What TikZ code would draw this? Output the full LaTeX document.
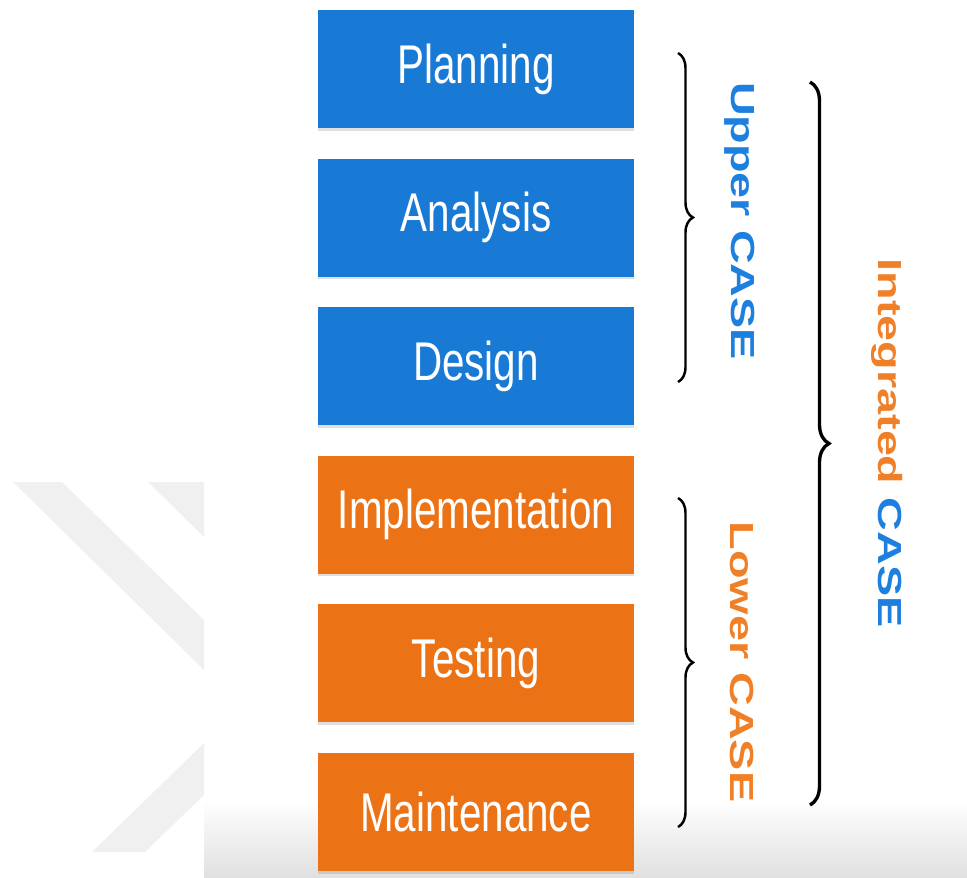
\documentclass[tikz,border=0pt]{standalone}
\usepackage{fontspec}
\setmainfont{Liberation Sans}
\usepackage{xcolor}
\usetikzlibrary{positioning, decorations.pathreplacing, shadows}

\definecolor{caseblue}{RGB}{24,122,212}
\definecolor{caseorange}{RGB}{236,114,22}
\definecolor{labelblue}{RGB}{30,128,222}
\definecolor{labelorange}{RGB}{240,128,40}

\newcommand{\tallbox}[1]{\scalebox{1}[1.35]{#1}}
\newcommand{\longbox}[1]{\scalebox{1.4}[1]{#1}}

\begin{document}
\begin{tikzpicture}[x=0.02cm, y=-0.02cm,
    phase/.style={fill=#1, text=white, minimum width=6.32cm, minimum height=2.36cm, inner sep=0pt,
        font=\fontsize{23}{26}\selectfont, drop shadow={shadow xshift=0pt, shadow yshift=-1.5pt, opacity=0.25}},
    curly/.style={decorate, decoration={brace, amplitude=#1}, line width=1.4pt},
    side/.style={rotate=-90, font=\bfseries\fontsize{19}{22}\selectfont}]
    \useasboundingbox (0,0) rectangle (967,877);

    % Faint watermark and bottom shading
    \fill[gray!12] (13,482) -- (62,482) -- (204,620) -- (204,670) -- cycle;
    \fill[gray!12] (148,482) -- (204,482) -- (204,537) -- cycle;
    \fill[gray!12] (204,743) -- (204,795) -- (145,852) -- (92,852) -- cycle;
    \shade[top color=white, bottom color=gray!24] (204,800) rectangle (967,877);

    % The six phases
    \foreach \name/\txt/\col [count=\i from 0] in {planning/Planning/caseblue, analysis/Analysis/caseblue,
        design/Design/caseblue, implementation/Implementation/caseorange,
        testing/Testing/caseorange, maintenance/Maintenance/caseorange} {
        \node[phase=\col] (\name) at (476, {69+\i*148.6}) {\tallbox{\txt}};
    }

    % Brace end points
    \coordinate (uppertop) at (678,53);
    \coordinate (upperbot) at (678,382);
    \coordinate (lowertop) at (678,498);
    \coordinate (lowerbot) at (678,827);
    \coordinate (inttop) at (810,82);
    \coordinate (intbot) at (810,805);

    \draw[curly=0.3cm] (uppertop) -- (upperbot);
    \draw[curly=0.3cm] (lowertop) -- (lowerbot);
    \draw[curly=0.38cm, line width=1.9pt] (inttop) -- (intbot);

    % Labels
    \node[side, text=labelblue] (upper) at (740,221) {\longbox{Upper CASE}};
    \node[side, text=labelorange] (lower) at (742,662) {\longbox{Lower CASE}};
    \node[side] (integrated) at (887,443) {\longbox{\textcolor{labelorange}{Integrated} \textcolor{labelblue}{CASE}}};
\end{tikzpicture}
\end{document}
